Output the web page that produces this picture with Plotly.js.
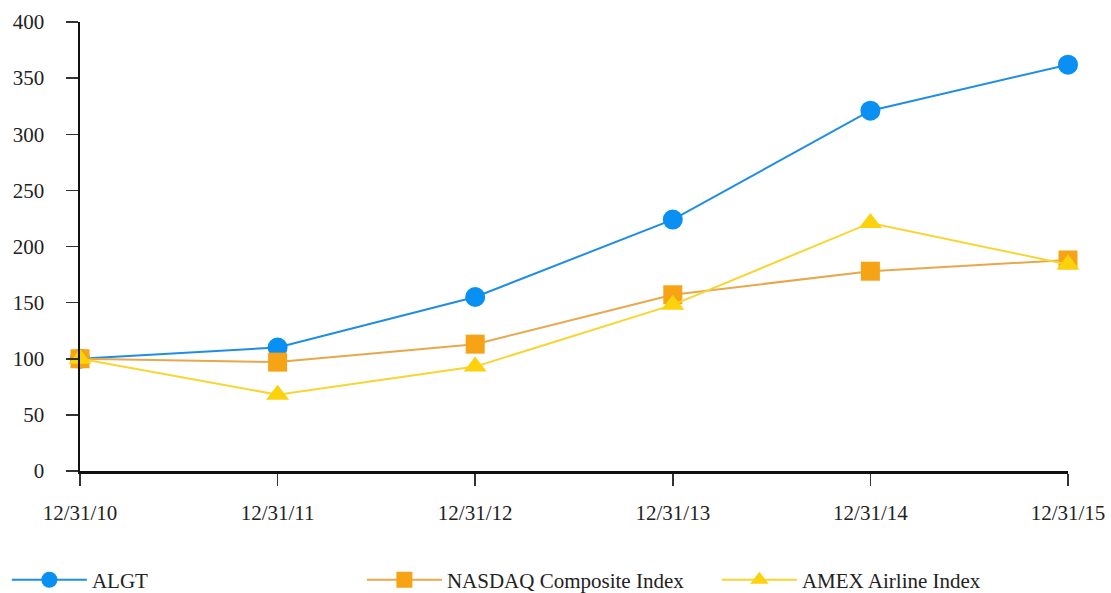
<!DOCTYPE html>
<html>
<head>
<meta charset="utf-8">
<script src="https://cdn.plot.ly/plotly-3.0.1.min.js"></script>
<style>html,body{margin:0;padding:0;background:#fff;}#chart{width:1111px;height:593px;}</style>
</head>
<body>
<div id="chart"></div>
<script>
const categories = ["12/31/10", "12/31/11", "12/31/12", "12/31/13", "12/31/14", "12/31/15"];
const algt = [100, 110, 155, 224, 321, 362];
const nasdaq = [100, 97, 113, 157, 178, 188];
const amex = [100, 68, 93, 148, 221, 184];
const yTicks = [0, 50, 100, 150, 200, 250, 300, 350, 400];

const traces = [
  {x: categories, y: algt, name: "ALGT", type: "scatter", mode: "lines+markers",
   line: {color: "#1f8de6", width: 2}, marker: {symbol: "circle", size: 20, color: "#0a8ff2"}, cliponaxis: false},
  {x: categories, y: nasdaq, name: "NASDAQ Composite Index", type: "scatter", mode: "lines+markers",
   line: {color: "#e7a84c", width: 2}, marker: {symbol: "square", size: 19, color: "#f6a315"}, cliponaxis: false},
  {x: categories, y: amex, name: "AMEX Airline Index", type: "scatter", mode: "lines+markers",
   line: {color: "#f7d532", width: 2}, marker: {symbol: "triangle-up", size: 20, color: "#fbd20c"}, cliponaxis: false}
];

const layout = {
  width: 1111, height: 593,
  margin: {l: 80, r: 43, t: 22, b: 122, autoexpand: false},
  paper_bgcolor: "#fff", plot_bgcolor: "#fff",
  font: {family: "'Liberation Serif', 'Times New Roman', serif", size: 21, color: "#222"},
  showlegend: true,
  xaxis: {
    type: "category", range: [0, 5], showgrid: false, zeroline: false, automargin: false,
    showline: true, linecolor: "#111", linewidth: 2.5,
    ticks: "outside", ticklen: 12, tickwidth: 1.5, tickcolor: "#333",
    ticklabelstandoff: 9, tickfont: {size: 21, color: "#222"}
  },
  yaxis: {
    range: [0, 400], tickvals: yTicks, showgrid: false, zeroline: false, automargin: false,
    showline: true, linecolor: "#111", linewidth: 2.5,
    ticks: "outside", ticklen: 12, tickwidth: 1.5, tickcolor: "#333",
    ticklabelstandoff: 17, tickfont: {size: 21, color: "#222"}
  },
  legend: {
    orientation: "h", x: -0.074, xanchor: "left", y: -0.243, yanchor: "middle",
    font: {size: 21, color: "#222"}, itemwidth: 75, entrywidth: 265, entrywidthmode: "pixels",
    traceorder: "normal", bgcolor: "rgba(0,0,0,0)"
  }
};

Plotly.newPlot("chart", traces, layout, {displayModeBar: false, staticPlot: true});
</script>
</body>
</html>
